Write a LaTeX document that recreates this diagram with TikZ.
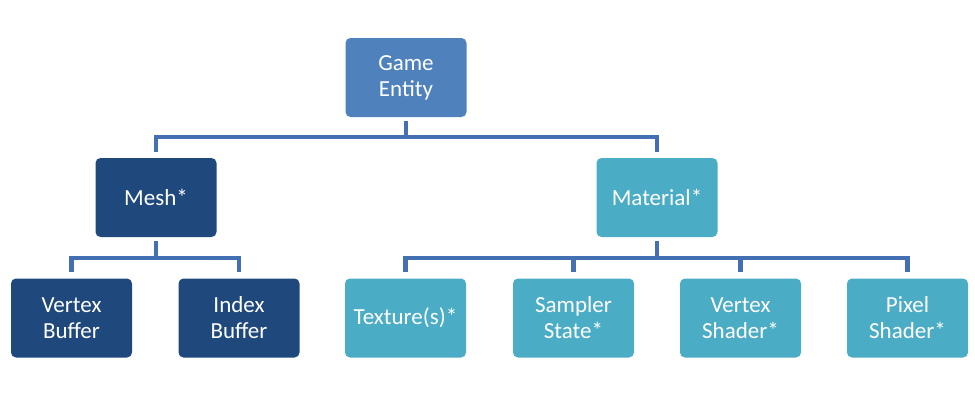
\documentclass[tikz,border=0pt]{standalone}
\usepackage{fontspec}
\setmainfont{Carlito}
\usepackage{tikz}
\usetikzlibrary{positioning}
\usepackage{xcolor}
\definecolor{geblue}{RGB}{79,129,189}
\definecolor{gedark}{RGB}{31,73,125}
\definecolor{geteal}{RGB}{75,172,198}
\definecolor{geline}{RGB}{66,112,178}
\tikzstyle{box} = [rectangle, rounded corners=5pt, minimum width=121pt, minimum height=79pt, text centered, align=center, text=white, font=\fontsize{23}{26}\selectfont]
\tikzstyle{meshpart} = [box, fill=gedark]
\tikzstyle{matpart} = [box, fill=geteal]
\tikzstyle{link} = [line width=4.5pt, color=geline, shorten <=4pt, shorten >=6pt]

\begin{document}
\begin{tikzpicture}[x=1pt,y=1pt]
\useasboundingbox (0,0) rectangle (975,-402);

% Root
\node[box, fill=geblue] (gameentity) at (406,-77.5) {Game\\Entity};

% Second level
\node[meshpart] (mesh) at (156,-197.5) {Mesh*};
\node[matpart] (material) at (657,-197.5) {Material*};

% Mesh parts
\node[meshpart] (vbuffer) at (71.5,-318) {Vertex\\Buffer};
\node[meshpart] (ibuffer) at (239,-318) {Index\\Buffer};

% Material parts
\node[matpart] (texture) at (405.5,-318) {Texture(s)*};
\node[matpart] (sampler) at (573.5,-318) {Sampler\\State*};
\node[matpart] (vshader) at (740.5,-318) {Vertex\\Shader*};
\node[matpart] (pshader) at (907.5,-318) {Pixel\\Shader*};

% Connectors
\draw[link] (gameentity.south) -- ++(0,-20) -| (mesh.north);
\draw[link] (gameentity.south) -- ++(0,-20) -| (material.north);
\draw[link] (mesh.south) -- ++(0,-21) -| (vbuffer.north);
\draw[link] (mesh.south) -- ++(0,-21) -| (ibuffer.north);
\foreach \part in {texture,sampler,vshader,pshader}
  \draw[link] (material.south) -- ++(0,-21) -| (\part.north);
\end{tikzpicture}
\end{document}
